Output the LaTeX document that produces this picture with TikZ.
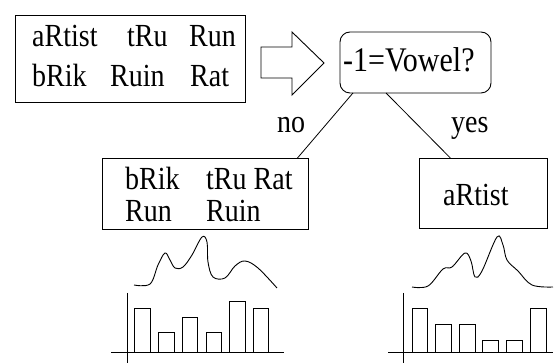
\documentclass[tikz,border=0pt]{standalone}
\usepackage{fontspec}
\usepackage{graphicx}
\setmainfont{Liberation Serif}
\newcommand\tallword[1]{\scalebox{1}[1.15]{#1}}
\tikzset{
  box/.style={draw, line width=0.9pt, inner sep=0pt, outer sep=0pt},
  word/.style={anchor=base west, inner sep=0pt, font=\fontsize{28}{34}\selectfont},
  bigword/.style={anchor=base west, inner sep=0pt, font=\fontsize{30}{36}\selectfont},
  conn/.style={line width=0.8pt},
  bar/.style={draw, line width=0.8pt},
  axis/.style={line width=0.8pt},
  curve/.style={line width=0.9pt}
}
\begin{document}
\begin{tikzpicture}[x=1pt,y=-1pt]
\useasboundingbox (0,0) rectangle (558,363);
% top-left box
\node[box, minimum width=230pt, minimum height=87pt] (src) at (130,58.5) {};
\node[word] (w1) at (32,47) {\tallword{aRtist}};
\node[word] (w2) at (127,47) {\tallword{tRu}};
\node[word] (w3) at (189,47) {\tallword{Run}};
\node[word] (w4) at (32,87) {\tallword{bRik}};
\node[word] (w5) at (110,87) {\tallword{Ruin}};
\node[word] (w6) at (190,87) {\tallword{Rat}};
% block arrow
\draw[line width=0.9pt] (261,47) -- (292,47) -- (292,32) -- (324,63) -- (292,95) -- (292,78) -- (261,78) -- cycle;
% decision
\node[box, rounded corners=10pt, minimum width=151pt, minimum height=61pt] (dec) at (415.5,62.5) {};
\node[bigword] (dtext) at (343,72) {\tallword{-1=Vowel?}};
% leaves
\node[box, minimum width=206pt, minimum height=71pt] (lb) at (205,193.5) {};
\node[word] (l1) at (125,190) {\tallword{bRik}};
\node[word] (l2) at (206,190) {\tallword{tRu Rat}};
\node[word] (l3) at (125,222) {\tallword{Run}};
\node[word] (l4) at (206,222) {\tallword{Ruin}};
\node[box, minimum width=128pt, minimum height=70pt] (rb) at (483,193) {};
\node[word] (r1) at (443,206) {\tallword{aRtist}};
% connectors
\draw[conn] (dec.206.8) -- (lb.21.97);
\draw[conn] (dec.226.9) -- (rb.133.3);
\node[word] (no) at (277,133) {\tallword{no}};
\node[word] (yes) at (451,133) {\tallword{yes}};
% left curve
\draw[curve] plot[smooth, tension=0.6] coordinates {(134,285) (150,284) (158,265) (165,253) (170,260) (175,268) (183,267) (192,255) (202,237) (207,242) (208,262) (213,277) (225,278) (235,266) (245,261) (258,268) (277,288)};
% right curve
\draw[curve] plot[smooth, tension=0.6] coordinates {(412,287) (428,286) (443,269) (452,267) (465,253) (471,261) (475,277) (482,271) (497,237) (503,245) (507,260) (518,271) (532,285) (553,287)};
% left bar chart
\draw[axis] (127,293) -- (127,363);
\draw[axis] (111,352) -- (284,352);
\draw[bar] (134,352) rectangle (150,308);
\draw[bar] (158,352) rectangle (174,332);
\draw[bar] (182,352) rectangle (197,317);
\draw[bar] (206,352) rectangle (221,332);
\draw[bar] (229,352) rectangle (245,301);
\draw[bar] (253,352) rectangle (268,308);
% right bar chart
\draw[axis] (403,293) -- (403,363);
\draw[axis] (388,352) -- (553,352);
\draw[bar] (412,352) rectangle (427,308);
\draw[bar] (435,352) rectangle (451,324);
\draw[bar] (459,352) rectangle (475,324);
\draw[bar] (482,352) rectangle (498,340);
\draw[bar] (506,352) rectangle (522,340);
\draw[bar] (530,352) rectangle (546,308);
\end{tikzpicture}
\end{document}
